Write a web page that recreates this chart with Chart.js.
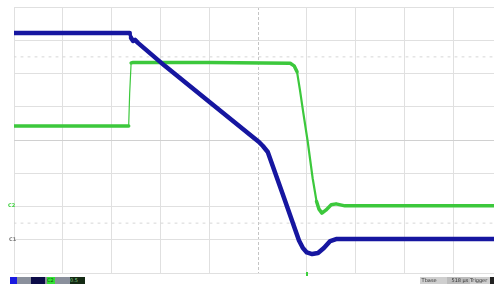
<!DOCTYPE html>
<html><head><meta charset="utf-8">
<script src="https://cdn.jsdelivr.net/npm/chart.js@4"></script>
<style>
html,body{margin:0;padding:0;background:#fff;overflow:hidden;}
#wrap{position:relative;width:494px;height:284px;}
canvas{position:absolute;left:0;top:0;}
.b{position:absolute;top:277px;height:7px;font:5px "DejaVu Sans",sans-serif;line-height:7px;overflow:hidden;white-space:nowrap;color:#333;}
.m{position:absolute;font:bold 5px "DejaVu Sans",sans-serif;line-height:5px;}
</style></head><body>
<div id="wrap">
<canvas id="c" width="494" height="284"></canvas>
<div class="m" style="left:8px;top:203px;color:#3ccf3c;">C2</div>
<div class="m" style="left:9px;top:237px;color:#777;">C1</div>
<div style="position:absolute;left:306px;top:272px;width:2px;height:4px;background:#3ccf3c;"></div>
<div class="b" style="left:10px;width:7px;background:#1a1ae0;"></div>
<div class="b" style="left:17px;width:14px;background:#8a909c;"></div>
<div class="b" style="left:31px;width:14px;background:#0c0c48;"></div>
<div class="b" style="left:45px;width:2px;background:#8a909c;"></div>
<div class="b" style="left:47px;width:8px;background:#33e033;color:#0a5a0a;">C2</div>
<div class="b" style="left:55px;width:15px;background:#8a909c;"></div>
<div class="b" style="left:70px;width:15px;background:#142a14;color:#8c8;">0.5</div>
<div class="b" style="left:420px;width:27px;background:#cfcfcf;">&nbsp;Tbase</div>
<div class="b" style="left:447px;width:23px;background:#bcbcbc;text-align:right;">518 µs&nbsp;</div>
<div class="b" style="left:470px;width:20px;background:#cfcfcf;">Trigger</div>
<div class="b" style="left:490px;width:4px;background:#222;"></div>
</div>
<script>
// time in divisions, level in divisions
const blueTime  = [0, 2.37, 2.40, 2.44, 2.48, 2.54, 3.09, 4.00, 5.02, 5.10, 5.20, 5.50, 5.84, 5.92, 6.00, 6.11, 6.23, 6.35, 6.48, 6.60, 7.50, 8.50, 9.84];
const blueLevel = [3.22, 3.22, 3.07, 2.98, 3.01, 2.92, 2.23, 1.15, -0.06, -0.18, -0.36, -1.60, -3.02, -3.25, -3.38, -3.43, -3.40, -3.25, -3.04, -2.98, -2.98, -2.98, -2.98];
const greenTime  = [0, 2.35, 2.37, 2.40, 2.44, 4.00, 5.66, 5.74, 5.80, 5.86, 5.93, 6.02, 6.12, 6.20, 6.25, 6.31, 6.39, 6.50, 6.60, 6.78, 8.00, 9.84];
const greenLevel = [0.42, 0.42, 1.40, 2.32, 2.33, 2.33, 2.31, 2.23, 2.05, 1.50, 0.80, -0.06, -1.15, -1.85, -2.08, -2.20, -2.11, -1.95, -1.92, -1.98, -1.98, -1.98];
const refLevels = [2.5, -2.5];
const xMax = 9.836;

const toPts = (t, v) => t.map((x, i) => ({x, y: v[i]}));
const slopeW = (normal, mid, thin) => ({
  borderWidth: ctx => {
    const dx = Math.abs(ctx.p1.parsed.x - ctx.p0.parsed.x);
    const dy = Math.abs(ctx.p1.parsed.y - ctx.p0.parsed.y);
    const s = dy / Math.max(dx, 1e-6);
    return s > 30 ? thin : (s > 5 ? mid : normal);
  }
});

const datasets = [
  ...refLevels.map(v => ({
    data: [{x: 0, y: v}, {x: xMax, y: v}],
    borderColor: '#d6d6d6', borderWidth: 1, borderDash: [2, 5], pointRadius: 0, order: 3
  })),
  {data: toPts(greenTime, greenLevel), borderColor: '#3cc83c', borderWidth: 3.5, pointRadius: 0, order: 2, segment: slopeW(3.5, 2.2, 1.2)},
  {data: toPts(blueTime, blueLevel), borderColor: '#1616a0', borderWidth: 4, pointRadius: 0, order: 1, segment: slopeW(4.5, 3.5, 3)}
];

new Chart(document.getElementById('c'), {
  type: 'line',
  data: {datasets},
  options: {
    responsive: false, animation: false, devicePixelRatio: 1,
    layout: {padding: {left: 14, top: 7, right: 0, bottom: 11}},
    plugins: {legend: {display: false}, tooltip: {enabled: false}},
    elements: {point: {radius: 0}, line: {tension: 0, borderJoinStyle: 'round', borderCapStyle: 'round'}},
    scales: {
      x: {type: 'linear', min: 0, max: xMax,
          ticks: {display: false, stepSize: 1, includeBounds: false},
          grid: {drawTicks: false, color: c => c.tick && c.tick.value === 5 ? '#c4c4c4' : '#e0e0e0'},
          border: {display: false, dash: c => c.tick && c.tick.value === 5 ? [3, 2] : []}},
      y: {type: 'linear', min: -4, max: 4,
          ticks: {display: false, stepSize: 1, includeBounds: false},
          grid: {drawTicks: false, color: c => c.tick && c.tick.value === 0 ? '#d0d0d0' : '#e0e0e0'},
          border: {display: false}}
    }
  }
});
</script>
</body></html>
